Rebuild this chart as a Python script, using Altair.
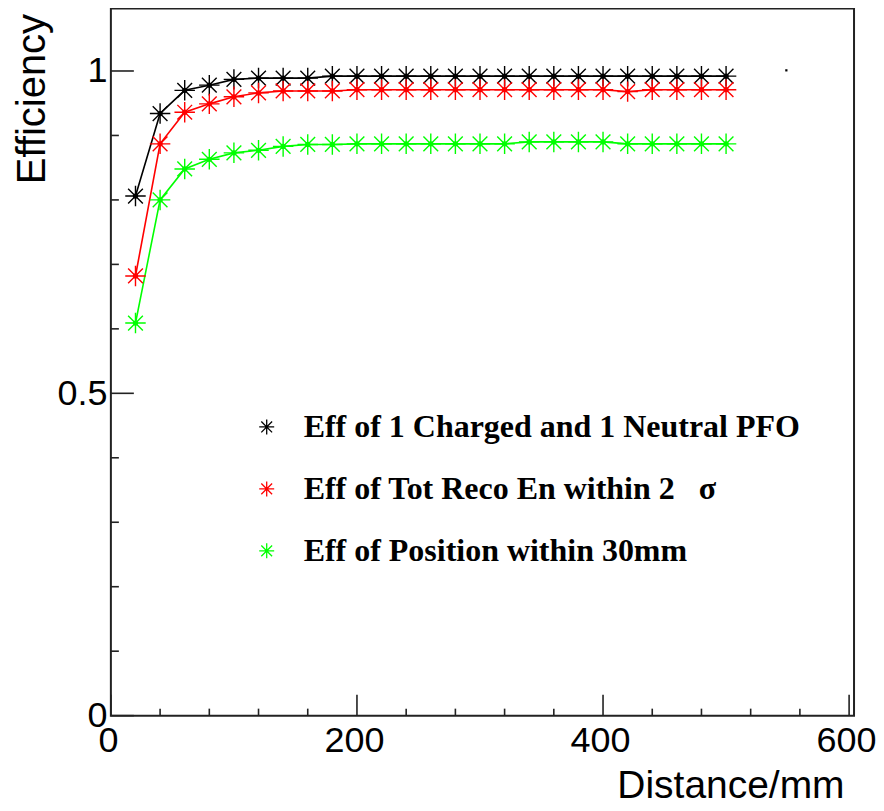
import altair as alt
import pandas as pd

# ---- data ----
distance = [20, 40, 60, 80, 100, 120, 140, 160, 180, 200, 220, 240, 260,
            280, 300, 320, 340, 360, 380, 400, 420, 440, 460, 480, 500]
eff_pfo = [0.806, 0.934, 0.970, 0.978, 0.987, 0.989, 0.989, 0.989, 0.992, 0.992,
           0.992, 0.992, 0.992, 0.992, 0.992, 0.992, 0.992, 0.992, 0.992, 0.992,
           0.992, 0.992, 0.992, 0.992, 0.992]
eff_energy = [0.682, 0.887, 0.936, 0.949, 0.960, 0.966, 0.969, 0.969, 0.969, 0.971,
              0.971, 0.971, 0.971, 0.971, 0.971, 0.971, 0.971, 0.971, 0.971, 0.971,
              0.968, 0.971, 0.971, 0.971, 0.971]
eff_position = [0.609, 0.800, 0.848, 0.863, 0.873, 0.877, 0.883, 0.886, 0.886, 0.887,
                0.887, 0.887, 0.887, 0.887, 0.887, 0.887, 0.890, 0.890, 0.890, 0.890,
                0.887, 0.887, 0.887, 0.887, 0.887]
series_names = ["Eff of 1 Charged and 1 Neutral PFO",
                "Eff of Tot Reco En within 2\u00a0\u00a0\u00a0\u03c3",
                "Eff of Position within 30mm"]
series_colors = ["#000000", "#ff0000", "#00ff00"]
stray_x = [549]
stray_y = [1.001]

x_major = [0, 200, 400, 600]
x_minor = [40, 80, 120, 160, 240, 280, 320, 360, 440, 480, 520, 560]
y_major = [0, 0.5, 1]
y_minor = [0.1, 0.2, 0.3, 0.4, 0.6, 0.7, 0.8, 0.9]

# ---- build tables ----
rows = []
for name, vals in zip(series_names, [eff_pfo, eff_energy, eff_position]):
    for d, v in zip(distance, vals):
        rows.append({"series": name, "distance": d, "eff": v})
df = pd.DataFrame(rows)

W, H = 744, 708
STAR = "M-1,0L1,0M0,-1L0,1M-0.72,-0.72L0.72,0.72M-0.72,0.72L0.72,-0.72"

xscale = alt.Scale(domain=[0, 604], nice=False, zero=False)
yscale = alt.Scale(domain=[0, 1.097], nice=False, zero=False)
cscale = alt.Scale(domain=series_names, range=series_colors)

x_axis = alt.Axis(values=x_major, ticks=False, grid=False, domain=False,
                  labelFont="Liberation Sans", labelFontSize=36, labelColor="black",
                  labelFlush=False, labelPadding=8, labelAngle=0, labelOffset=-3,
                  title="Distance/mm", titleFont="Liberation Sans", titleFontSize=39,
                  titleFontWeight="normal", titleColor="black",
                  titleAlign="right", titleX=734, titleY=82, titleBaseline="alphabetic")
y_axis = alt.Axis(values=y_major, format="~g", ticks=False, grid=False, domain=False,
                  labelFont="Liberation Sans", labelFontSize=36, labelColor="black",
                  labelPadding=4,
                  title="Efficiency", titleFont="Liberation Sans", titleFontSize=40,
                  titleFontWeight="normal", titleColor="black", titleAngle=270,
                  titleAlign="right", titleX=-66, titleY=5, titleBaseline="alphabetic")

legend = alt.Legend(orient="none", legendX=140, legendY=403, title=None,
                    labelFont="Liberation Serif", labelFontWeight="bold",
                    labelFontSize=32, labelColor="black", labelLimit=1000,
                    symbolType=STAR, symbolSize=225, symbolStrokeWidth=1.3,
                    symbolFillColor="transparent",
                    labelOffset=21, rowPadding=30, padding=0)

X = lambda f: alt.X(f, scale=xscale, axis=x_axis)
Y = lambda f: alt.Y(f, scale=yscale, axis=y_axis)
C = alt.Color("series:N", scale=cscale, legend=legend)

lines = alt.Chart(df).mark_line(strokeWidth=1.6).encode(
    x=X("distance:Q"), y=Y("eff:Q"), color=C)
stars = alt.Chart(df).mark_point(shape=STAR, filled=False, size=420,
                                 strokeWidth=1.4, opacity=1).encode(
    x=X("distance:Q"), y=Y("eff:Q"), color=C)
dots = alt.Chart(df).mark_circle(size=28, opacity=1).encode(
    x=X("distance:Q"), y=Y("eff:Q"), color=C)
stray = alt.Chart(pd.DataFrame({"distance": stray_x, "eff": stray_y})).mark_square(
    size=5, color="black", opacity=1).encode(x=X("distance:Q"), y=Y("eff:Q"))

tick_color = "#222222"
xmaj = alt.Chart(pd.DataFrame({"distance": x_major})).mark_rule(color=tick_color, strokeWidth=1.6).encode(
    x=X("distance:Q"), y=alt.value(H), y2=alt.value(H - 21))
xmin = alt.Chart(pd.DataFrame({"distance": x_minor})).mark_rule(color=tick_color, strokeWidth=1.6).encode(
    x=X("distance:Q"), y=alt.value(H), y2=alt.value(H - 7))
ymaj = alt.Chart(pd.DataFrame({"eff": y_major})).mark_rule(color=tick_color, strokeWidth=1.6).encode(
    y=Y("eff:Q"), x=alt.value(0), x2=alt.value(23))
ymin = alt.Chart(pd.DataFrame({"eff": y_minor})).mark_rule(color=tick_color, strokeWidth=1.6).encode(
    y=Y("eff:Q"), x=alt.value(0), x2=alt.value(8))

chart = alt.layer(lines, xmaj, xmin, ymaj, ymin, stars, dots, stray).properties(
    width=W, height=H, autosize="none",
    padding={"left": 103, "top": 0, "right": 22, "bottom": 87},
    background="white",
).configure_view(stroke="#222222", strokeWidth=2)

chart.save("out.html", embed_options={"renderer": "svg", "actions": False})
